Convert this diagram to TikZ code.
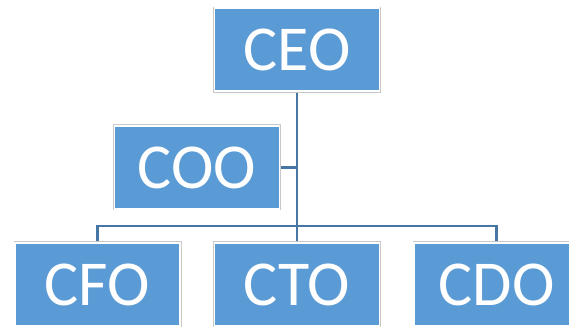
\documentclass[tikz,border=0pt]{standalone}
\usepackage{fontspec}
\setmainfont{Carlito}
\usepackage{tikz}
\usetikzlibrary{calc}

\definecolor{boxblue}{RGB}{91,155,213}
\definecolor{linkblue}{RGB}{70,118,166}
\definecolor{edgegrey}{RGB}{200,200,200}

\tikzset{
  post/.style={fill=boxblue, draw=white, line width=1.8pt,
    preaction={draw=edgegrey, line width=3pt},
    minimum width=165pt, minimum height=83pt, inner sep=0pt, outer sep=1.5pt,
    text=white, font=\fontsize{64}{64}\selectfont},
  link/.style={draw=linkblue, line width=2.4pt}
}

\begin{document}
\begin{tikzpicture}[x=1pt, y=1pt]
\useasboundingbox (0,0) rectangle (569,326);
\path
(297,276.2) node[post] (ceo) {CEO};
\path
(197,158.5) node[post] (coo) {COO};
\foreach \name/\txt/\x in {cfo/CFO/97.5, cto/CTO/297, cdo/CDO/496.5}
  \path (\x,41.5) node[post] (\name) {\txt};
\coordinate (bar) at (297,100);
\draw[link] (ceo.south) -- (cto.north);
\draw[link] (coo.east) -- (coo.east -| ceo.south);
\draw[link] (cfo.north) |- (bar) -| (cdo.north);
\end{tikzpicture}
\end{document}
